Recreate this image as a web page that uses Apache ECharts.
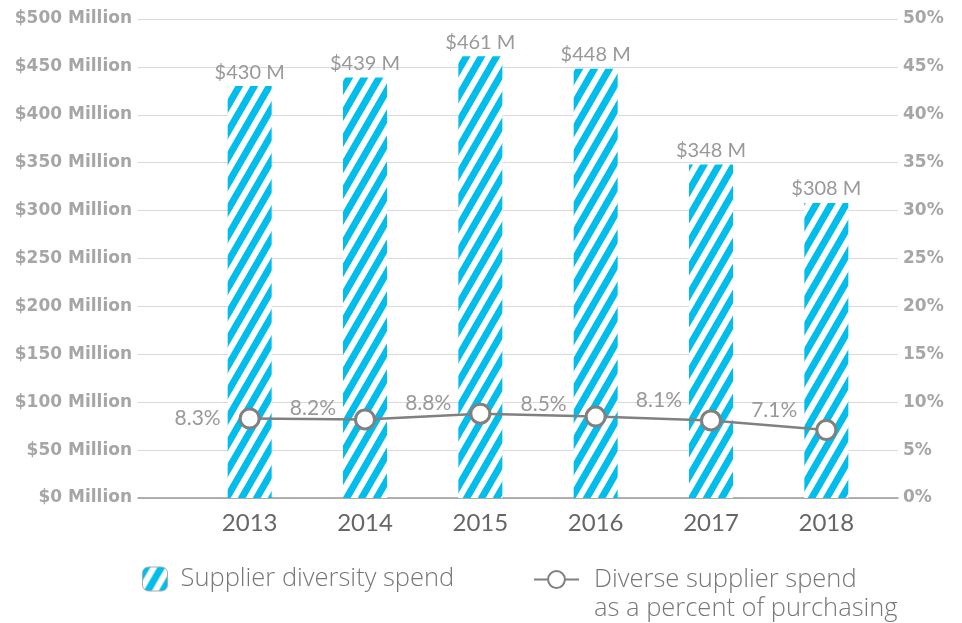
<!DOCTYPE html>
<html>
<head>
<meta charset="utf-8">
<script src="https://cdn.jsdelivr.net/npm/echarts@6/dist/echarts.min.js"></script>
<style>
html,body{margin:0;padding:0;background:#fff;}
#chart{width:962px;height:623px;}
</style>
</head>
<body>
<div id="chart"></div>
<script>
// ---- data ----
const years = ['2013', '2014', '2015', '2016', '2017', '2018'];
const spendMillions = [430, 439, 461, 448, 348, 308];
const percentOfPurchasing = [8.3, 8.2, 8.8, 8.5, 8.1, 7.1];
const leftTicks = { min: 0, max: 500, interval: 50 };
const rightTicks = { min: 0, max: 50, interval: 5 };
const seriesNames = ['Supplier diversity spend', 'Diverse supplier spend\nas a percent of purchasing'];

// ---- style ----
const FONT = 'Lato';
const TICK_FONT = 'DejaVu Sans';
const LEGEND_FONT = 'Open Sans';
const CYAN = '#00BDEB';
const LINE_GRAY = '#808080';
const pctLabelOffsets = [[0, 0], [0, -11], [0, -10], [0, -12], [0, -20], [0, -20]];

function makeStripe() {
  const w = 15, h = 26, band = 8;
  const c = document.createElement('canvas');
  c.width = w; c.height = h;
  const ctx = c.getContext('2d');
  ctx.fillStyle = '#fff';
  ctx.fillRect(0, 0, w, h);
  ctx.fillStyle = CYAN;
  for (const x0 of [-w, 0, w]) {
    ctx.beginPath();
    ctx.moveTo(x0, h);
    ctx.lineTo(x0 + band, h);
    ctx.lineTo(x0 + band + w, 0);
    ctx.lineTo(x0 + w, 0);
    ctx.closePath();
    ctx.fill();
  }
  return c;
}
const stripe = { image: makeStripe(), repeat: 'repeat' };

const chart = echarts.init(document.getElementById('chart'), null, { renderer: 'canvas' });

const option = {
  animation: false,
  textStyle: { fontFamily: FONT },
  grid: [
    { left: 138, right: 64, top: 19, bottom: 125 },
    { left: 192, right: 78, top: 19, bottom: 125 }
  ],
  xAxis: [
    {
      gridIndex: 0, type: 'value', min: 0, max: 1,
      axisLine: { show: true, lineStyle: { color: '#999', width: 1.5 } },
      axisTick: { show: false }, axisLabel: { show: false }, splitLine: { show: false }
    },
    {
      gridIndex: 1, type: 'category', data: years,
      axisLine: { show: false }, axisTick: { show: false },
      axisLabel: { color: '#666', fontSize: 24, fontFamily: FONT, margin: 13 }
    }
  ],
  yAxis: [
    {
      gridIndex: 0, type: 'value', position: 'left',
      min: leftTicks.min, max: leftTicks.max, interval: leftTicks.interval,
      axisLine: { show: false }, axisTick: { show: false },
      axisLabel: { color: '#a6a6a6', fontSize: 17, fontWeight: 'bold', fontFamily: TICK_FONT, margin: 6,
        formatter: v => '$' + v + ' Million' },
      splitLine: { show: true, lineStyle: { color: '#d9d9d9', width: 1 } }
    },
    {
      gridIndex: 0, type: 'value', position: 'right',
      min: rightTicks.min, max: rightTicks.max, interval: rightTicks.interval,
      axisLine: { show: false }, axisTick: { show: false },
      axisLabel: { color: '#a6a6a6', fontSize: 17, fontWeight: 'bold', fontFamily: TICK_FONT, margin: 5,
        formatter: v => v + '%' },
      splitLine: { show: false }
    },
    {
      gridIndex: 1, type: 'value', min: leftTicks.min, max: leftTicks.max, show: false
    },
    {
      gridIndex: 1, type: 'value', min: rightTicks.min, max: rightTicks.max, show: false
    }
  ],
  legend: [
    {
      data: [seriesNames[0]],
      left: 137, top: 561,
      itemWidth: 25, itemHeight: 24,
      itemStyle: { borderColor: '#aaa', borderWidth: 1 },
      textStyle: { color: '#777', fontSize: 25.5, fontWeight: 300, fontFamily: LEGEND_FONT, padding: [0, 0, 0, 8] }
    },
    {
      data: [seriesNames[1]],
      left: 528, top: 531,
      itemWidth: 45, itemHeight: 21,
      formatter: name => '\n' + name,
      textStyle: { color: '#777', fontSize: 25.5, fontWeight: 300, fontFamily: LEGEND_FONT, lineHeight: 29, padding: [0, 0, 0, 10] }
    }
  ],
  series: [
    {
      name: seriesNames[0], type: 'bar',
      xAxisIndex: 1, yAxisIndex: 2,
      barWidth: 44,
      data: spendMillions,
      itemStyle: { color: stripe },
      label: {
        show: true, position: 'top', distance: 4,
        color: '#999', fontSize: 20, fontFamily: FONT,
        formatter: p => '$' + p.value + ' M'
      },
      z: 2
    },
    {
      name: seriesNames[1], type: 'line',
      xAxisIndex: 1, yAxisIndex: 3,
      data: percentOfPurchasing.map((v, i) => ({
        value: v,
        label: { offset: pctLabelOffsets[i] }
      })),
      symbol: 'circle', symbolSize: 19,
      itemStyle: { color: '#fff', borderColor: LINE_GRAY, borderWidth: 3 },
      lineStyle: { color: LINE_GRAY, width: 2.5 },
      label: {
        show: true, position: 'left', distance: 18,
        color: '#999', fontSize: 21, fontFamily: FONT,
        formatter: p => p.value + '%'
      },
      z: 5
    }
  ]
};

chart.setOption(option);
</script>
</body>
</html>
